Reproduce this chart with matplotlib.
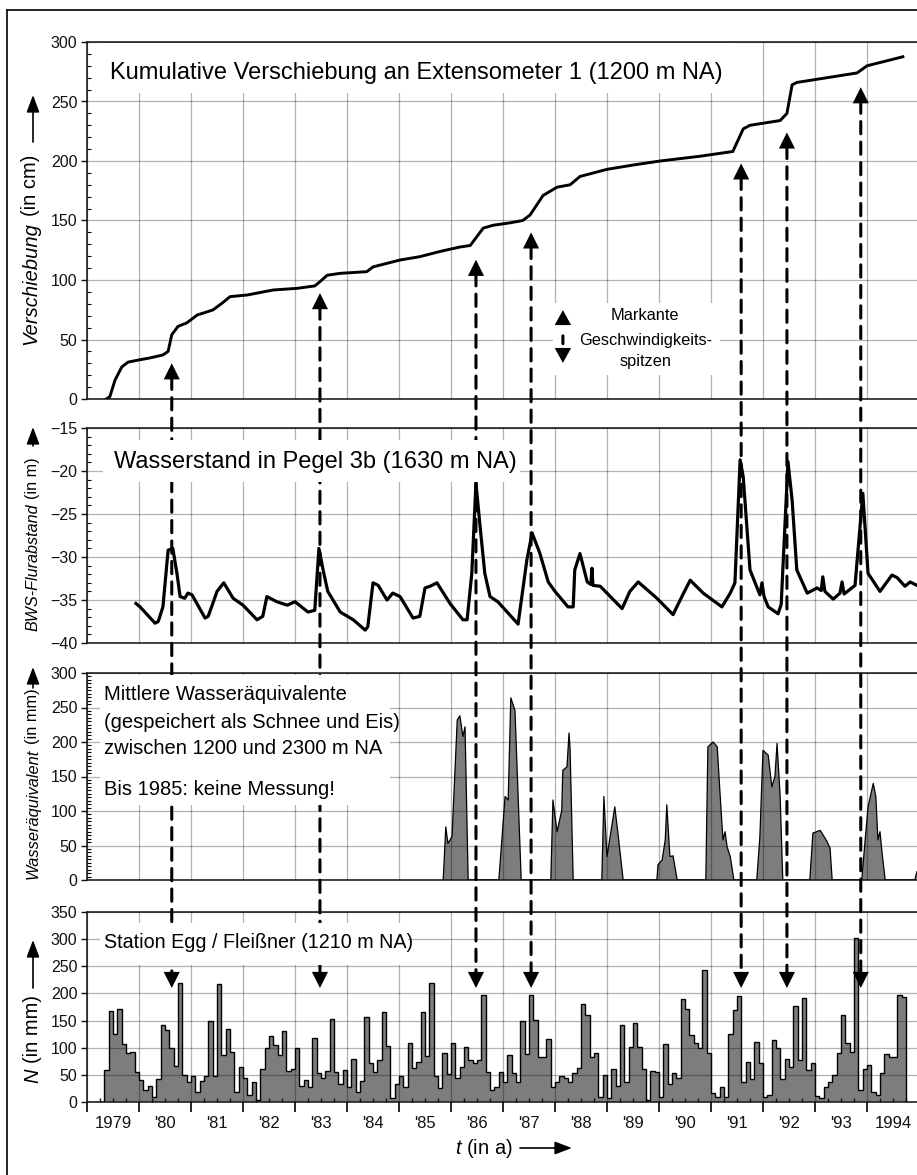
import matplotlib
matplotlib.use('Agg')
import matplotlib.pyplot as plt
import numpy as np
from matplotlib.patches import Rectangle, ConnectionPatch, FancyArrowPatch
from matplotlib.lines import Line2D
from matplotlib.ticker import MultipleLocator, FixedLocator, FuncFormatter

plt.rcParams['font.family'] = ['Liberation Sans', 'DejaVu Sans']
plt.rcParams['mathtext.fontset'] = 'custom'
plt.rcParams['mathtext.rm'] = 'Liberation Sans'
plt.rcParams['mathtext.it'] = 'Liberation Sans:italic'
SANS = ['Liberation Sans', 'DejaVu Sans']

# --- Kumulative Verschiebung (cm)
disp_years = [1979.37, 1979.44, 1979.54, 1979.67, 1979.79, 1980.02, 1980.21, 1980.46,
              1980.56, 1980.63, 1980.75, 1980.92, 1981.12, 1981.42, 1981.60, 1981.75,
              1982.08, 1982.58, 1983.04, 1983.38, 1983.48, 1983.62, 1983.87, 1984.38,
              1984.50, 1985.02, 1985.40, 1985.79, 1986.17, 1986.37, 1986.62, 1986.81,
              1987.13, 1987.38, 1987.52, 1987.77, 1988.04, 1988.29, 1988.48, 1989.00,
              1989.50, 1990.02, 1990.79, 1991.42, 1991.62, 1991.75, 1992.33, 1992.46,
              1992.56, 1992.65, 1993.81, 1994.00, 1994.69]
disp_vals = [0, 2, 16, 27, 31, 33, 34.5, 37,
             40, 54, 61, 64, 70.6, 74.8, 80.6, 86,
             87.4, 91.6, 93, 95, 98.6, 104, 105.6, 107,
             111, 116.8, 119.6, 124, 127.7, 129, 143.6, 146,
             148, 150, 154.6, 171, 178, 180, 187, 193,
             196.6, 200, 204, 208, 227, 230, 234, 240,
             264, 266, 274, 280, 287.6]

# --- Wasserstand Pegel 3b (m)
gw_years = [1979.94, 1980.02, 1980.31, 1980.37, 1980.46, 1980.56, 1980.65, 1980.73,
            1980.79, 1980.88, 1980.94, 1981.02, 1981.27, 1981.33, 1981.42, 1981.50,
            1981.63, 1981.81, 1982.00, 1982.27, 1982.38, 1982.46, 1982.65, 1982.85,
            1983.00, 1983.25, 1983.38, 1983.46, 1983.54, 1983.63, 1983.87, 1984.12,
            1984.35, 1984.40, 1984.50, 1984.60, 1984.77, 1984.88, 1985.02, 1985.27,
            1985.40, 1985.50, 1985.60, 1985.73, 1985.98, 1986.23, 1986.31, 1986.40,
            1986.48, 1986.56, 1986.65, 1986.75, 1986.90, 1987.29, 1987.46, 1987.56,
            1987.71, 1987.87, 1988.00, 1988.25, 1988.35, 1988.38, 1988.48, 1988.62,
            1988.69, 1988.71, 1988.73, 1988.87, 1989.29, 1989.44, 1989.60, 1989.96,
            1990.27, 1990.44, 1990.60, 1990.85, 1991.21, 1991.37, 1991.46, 1991.56,
            1991.62, 1991.75, 1991.94, 1991.98, 1992.02, 1992.10, 1992.29, 1992.35,
            1992.48, 1992.56, 1992.65, 1992.85, 1993.04, 1993.12, 1993.15, 1993.19,
            1993.35, 1993.48, 1993.52, 1993.56, 1993.77, 1993.92, 1994.02, 1994.25,
            1994.48, 1994.58, 1994.73, 1994.83, 1994.96]
gw_vals = [-35.4, -35.8, -37.7, -37.5, -35.8, -29.2, -29.0, -31.9,
           -34.6, -34.8, -34.2, -34.4, -37.1, -36.9, -35.4, -34.0,
           -33.0, -34.8, -35.6, -37.3, -36.9, -34.6, -35.2, -35.6,
           -35.2, -36.4, -36.2, -29.0, -31.5, -34.0, -36.4, -37.3,
           -38.5, -38.1, -33.0, -33.3, -35.0, -34.2, -34.6, -37.1,
           -36.9, -33.6, -33.4, -33.0, -35.4, -37.3, -37.3, -31.9,
           -21.4, -26.5, -31.9, -34.6, -35.2, -37.8, -30.3, -27.2,
           -29.6, -32.9, -34.0, -35.8, -35.8, -31.5, -29.6, -32.9,
           -33.2, -31.3, -33.3, -33.4, -36.0, -34.0, -32.9, -34.8,
           -36.7, -34.6, -32.7, -34.2, -35.8, -34.2, -33.0, -18.7,
           -20.7, -31.5, -34.4, -33.0, -34.6, -35.8, -36.6, -35.5,
           -18.9, -23.4, -31.5, -34.2, -33.6, -33.9, -32.3, -34.0,
           -34.9, -34.2, -32.9, -34.3, -33.3, -22.6, -31.9, -34.0,
           -32.1, -32.4, -33.4, -32.9, -33.3]

# --- Mittlere Wasseraequivalente (mm)
swe_years = [1985.85, 1985.90, 1985.94, 1986.02, 1986.12, 1986.17, 1986.23, 1986.27, 1986.33,
             1986.92, 1987.04, 1987.10, 1987.15, 1987.23, 1987.35,
             1987.92, 1987.96, 1988.04, 1988.13, 1988.15, 1988.23, 1988.27, 1988.29, 1988.35,
             1988.90, 1988.94, 1989.00, 1989.10, 1989.15, 1989.21, 1989.29, 1989.31,
             1989.96, 1989.98, 1990.06, 1990.12, 1990.15, 1990.21, 1990.27, 1990.35,
             1990.90, 1990.94, 1991.04, 1991.12, 1991.17, 1991.23, 1991.27, 1991.31, 1991.37, 1991.44,
             1991.88, 1991.94, 1992.00, 1992.10, 1992.17, 1992.23, 1992.27, 1992.33, 1992.38,
             1992.90, 1992.96, 1993.10, 1993.23, 1993.29, 1993.33,
             1993.90, 1993.92, 1994.02, 1994.12, 1994.17, 1994.21, 1994.25, 1994.29, 1994.35,
             1994.92, 1994.96]
swe_vals = [0, 77, 53, 63, 232, 238, 208, 222, 0,
            0, 121, 116, 264, 246, 0,
            0, 116, 70, 101, 159, 164, 213, 190, 0,
            0, 121, 34, 82, 106, 68, 14, 0,
            0, 22, 29, 58, 109, 34, 35, 0,
            0, 193, 200, 193, 130, 58, 70, 48, 34, 0,
            0, 63, 188, 181, 135, 150, 198, 121, 0,
            0, 68, 72, 56, 46, 0,
            0, 19, 106, 140, 121, 58, 70, 39, 0,
            0, 12]

# --- Monatsniederschlag Station Egg / Fleissner (mm), ab Jan 1979
precip = [0, 0, 0, 0, 59, 168, 126, 171, 106, 90, 93, 56,
          40, 22, 30, 9, 42, 141, 133, 99, 66, 220, 50, 37,
          47, 18, 39, 47, 149, 47, 217, 87, 134, 93, 18, 65,
          45, 13, 37, 4, 61, 99, 122, 105, 87, 130, 58, 61,
          99, 30, 40, 27, 117, 54, 45, 58, 153, 55, 33, 59,
          28, 80, 19, 39, 156, 72, 55, 77, 165, 104, 8, 34,
          47, 28, 108, 63, 74, 165, 85, 220, 48, 25, 90, 52,
          109, 44, 65, 102, 77, 72, 77, 198, 56, 23, 27, 55,
          36, 87, 54, 37, 149, 88, 198, 151, 83, 82, 116, 28,
          36, 48, 45, 37, 54, 63, 180, 160, 83, 90, 10, 50,
          7, 61, 29, 141, 37, 102, 145, 102, 61, 4, 58, 56,
          10, 106, 34, 54, 45, 190, 172, 123, 108, 99, 243, 90,
          16, 10, 27, 10, 126, 169, 195, 37, 74, 42, 110, 71,
          9, 13, 114, 99, 42, 80, 64, 177, 77, 192, 59, 71,
          11, 7, 27, 36, 50, 91, 161, 109, 93, 303, 22, 61,
          68, 19, 12, 54, 88, 83, 83, 198, 193]

# --- markante Geschwindigkeitsspitzen
peak_years = [1980.63, 1983.48, 1986.48, 1987.54, 1991.58, 1992.46, 1993.88]
peak_up_tip = [30, 89, 117, 140, 198, 224, 262]        # Verschiebung (cm)
peak_down_tip = [210, 210, 210, 210, 210, 210, 210]    # N (mm)

year_labels = ['1979', "'80", "'81", "'82", "'83", "'84", "'85", "'86",
               "'87", "'88", "'89", "'90", "'91", "'92", "'93", '1994']

W, H = 917, 1175
fig = plt.figure(figsize=(W / 100, H / 100), dpi=100)


def ax_at(top, bottom, left=87, right=919):
    return fig.add_axes([left / W, 1 - bottom / H, (right - left) / W, (bottom - top) / H])


def style(ax, ymin, ymax, major, minor):
    ax.set_xlim(1979, 1995)
    ax.set_ylim(ymin, ymax)
    ax.yaxis.set_major_locator(MultipleLocator(major))
    if minor:
        ax.yaxis.set_minor_locator(MultipleLocator(minor))
    ax.xaxis.set_major_locator(FixedLocator(range(1979, 1996)))
    ax.set_axisbelow(False)
    ax.grid(True, which='major', color='k', alpha=0.3, lw=0.9)
    ax.tick_params(axis='y', which='major', direction='out', length=4, width=1,
                   labelsize=11.5, pad=3, colors='#111')
    ax.tick_params(axis='y', which='minor', direction='in', length=3, width=0.8)
    ax.tick_params(axis='x', which='both', length=0, labelbottom=False)
    for s in ax.spines.values():
        s.set_linewidth(1.2)
        s.set_color('#222')


ax1 = ax_at(42, 399)
ax2 = ax_at(428, 643)
ax3 = ax_at(673, 880)
ax4 = ax_at(912, 1102)

style(ax1, 0, 300, 50, 10)
style(ax2, -40, -15, 5, 1)
style(ax3, 0, 300, 50, 5)
style(ax4, 0, 350, 50, None)

ax1.plot(disp_years, disp_vals, color='k', lw=2.1, zorder=3)
ax2.plot(gw_years, gw_vals, color='k', lw=2.3, zorder=3)
ax3.fill_between(swe_years, swe_vals, 0, facecolor='#7d7d7d', edgecolor='none', zorder=1)
ax3.plot(swe_years, swe_vals, color='k', lw=0.9, zorder=3)

edges = 1979 + np.arange(len(precip) + 1) / 12.0
ax4.stairs(precip, edges, fill=True, facecolor='#7d7d7d', edgecolor='none', zorder=1)
ax4.stairs(precip, edges, color='k', lw=1.0, zorder=3)

quarters = [y + q for y in range(1979, 1995) for q in (0.25, 0.5, 0.75)]
ax4.xaxis.set_minor_locator(FixedLocator(quarters))
ax4.xaxis.set_minor_formatter(FuncFormatter(
    lambda v, pos: year_labels[int(v) - 1979] if abs(v - int(v) - 0.5) < 1e-6 else ''))
ax4.tick_params(axis='x', which='major', direction='out', length=7, width=1.2, labelbottom=False)
ax4.tick_params(axis='x', which='minor', direction='in', length=3, width=1,
                labelbottom=True, labelsize=12, pad=10, colors='#111')

# white boxes behind the panel texts (they hide grid and dashed arrows)
boxes = [(ax1, 0.016, 0.857, 0.779, 0.997), (ax1, 0.560, 0.067, 0.761, 0.269),
         (ax2, 0.019, 0.749, 0.520, 0.944), (ax3, 0.016, 0.362, 0.364, 0.990),
         (ax4, 0.016, 0.721, 0.386, 0.942)]
for ax, x0, y0, x1, y1 in boxes:
    fig.add_artist(Rectangle((x0, y0), x1 - x0, y1 - y0, transform=ax.transAxes,
                             facecolor='white', edgecolor='none', zorder=5))

fig.text(0.028, 0.913, 'Kumulative Verschiebung an Extensometer 1 (1200 m NA)',
         transform=ax1.transAxes, fontsize=17, va='center', zorder=6)
fig.text(0.032, 0.842, 'Wasserstand in Pegel 3b (1630 m NA)',
         transform=ax2.transAxes, fontsize=17, va='center', zorder=6)
for yy, s in [(0.894, 'Mittlere Wasseräquivalente'), (0.763, '(gespeichert als Schnee und Eis)'),
              (0.633, 'zwischen 1200 und 2300 m NA'), (0.435, 'Bis 1985: keine Messung!')]:
    fig.text(0.020, yy, s, transform=ax3.transAxes, fontsize=14.5, va='center',
             family=SANS, zorder=6)
fig.text(0.020, 0.837, 'Station Egg / Fleißner (1210 m NA)', transform=ax4.transAxes,
         fontsize=14.2, va='center', family=SANS, zorder=6)
for yy, s in [(0.235, 'Markante'), (0.165, 'Geschwindigkeits-'), (0.104, 'spitzen')]:
    fig.text(0.671, yy, s, transform=ax1.transAxes, fontsize=11.8, ha='center', va='center',
             family=SANS, zorder=6)

# legend symbol
fig.add_artist(ConnectionPatch((0.572, 0.249), (0.572, 0.101), coordsA=ax1.transAxes,
                               coordsB=ax1.transAxes,
                               arrowstyle='<|-|>,head_length=0.4,head_width=0.22',
                               mutation_scale=27, lw=0, color='k', zorder=7))
fig.add_artist(ConnectionPatch((0.572, 0.177), (0.572, 0.155), coordsA=ax1.transAxes,
                               coordsB=ax1.transAxes, arrowstyle='-', lw=2.2,
                               color='k', zorder=7))

# dashed arrows linking the speed peaks with the precipitation
for yr, up, dn in zip(peak_years, peak_up_tip, peak_down_tip):
    fig.add_artist(ConnectionPatch((yr, up), (yr, dn), coordsA=ax1.transData,
                                   coordsB=ax4.transData, arrowstyle='-',
                                   ls=(0, (4, 2.7)), lw=2.2, color='k',
                                   shrinkA=10, shrinkB=10, zorder=4))
    fig.add_artist(ConnectionPatch((yr, up), (yr, dn), coordsA=ax1.transData,
                                   coordsB=ax4.transData,
                                   arrowstyle='<|-|>,head_length=0.4,head_width=0.2',
                                   mutation_scale=29, lw=0, color='k', zorder=4.5))

# y labels (italic part + upright part) with arrows
renderer = fig.canvas.get_renderer()


def vertical_label(x_px, y_bottom_px, parts, size):
    y = 1 - y_bottom_px / H
    for text, st in parts:
        t = fig.text(x_px / W, y, text, rotation=90, ha='center', va='bottom',
                     fontsize=size, fontstyle=st, family=SANS)
        bb = t.get_window_extent(renderer)
        y = (bb.y1 + size * 1.389 * 0.28) / H


def up_arrow(x_px, y0_px, y1_px):
    fig.add_artist(FancyArrowPatch((x_px / W, 1 - y0_px / H), (x_px / W, 1 - y1_px / H),
                                   transform=fig.transFigure,
                                   arrowstyle='-|>,head_length=0.8,head_width=0.3',
                                   mutation_scale=13, lw=1.2, color='k',
                                   shrinkA=0, shrinkB=0))


vertical_label(31, 345, [('Verschiebung', 'italic'), ('(in cm)', 'normal')], 14.5)
up_arrow(33, 142, 95)
vertical_label(33, 631, [('BWS-Flurabstand', 'italic'), ('(in m)', 'normal')], 11.6)
up_arrow(33, 446, 427)
vertical_label(33, 879, [('Wasseräquivalent', 'italic'), ('(in mm)', 'normal')], 11.8)
up_arrow(33, 688, 667)
vertical_label(33, 1083, [('N', 'italic'), ('(in mm)', 'normal')], 14.5)
up_arrow(33, 988, 940)

fig.text(455 / W, 1 - 1148 / H, r'$t$ (in a)', fontsize=14.5, va='center', ha='left')
fig.add_artist(FancyArrowPatch((520 / W, 1 - 1148 / H), (572 / W, 1 - 1148 / H),
                               transform=fig.transFigure,
                               arrowstyle='-|>,head_length=0.8,head_width=0.3',
                               mutation_scale=13, lw=1.2, color='k', shrinkA=0, shrinkB=0))

# outer frame
fig.add_artist(Line2D([7 / W, 7 / W], [0, 1 - 10 / H], transform=fig.transFigure,
                      color='k', lw=1.2))
fig.add_artist(Line2D([7 / W, 1], [1 - 10 / H, 1 - 10 / H], transform=fig.transFigure,
                      color='k', lw=1.2))

fig.savefig('out.png', dpi=100)
